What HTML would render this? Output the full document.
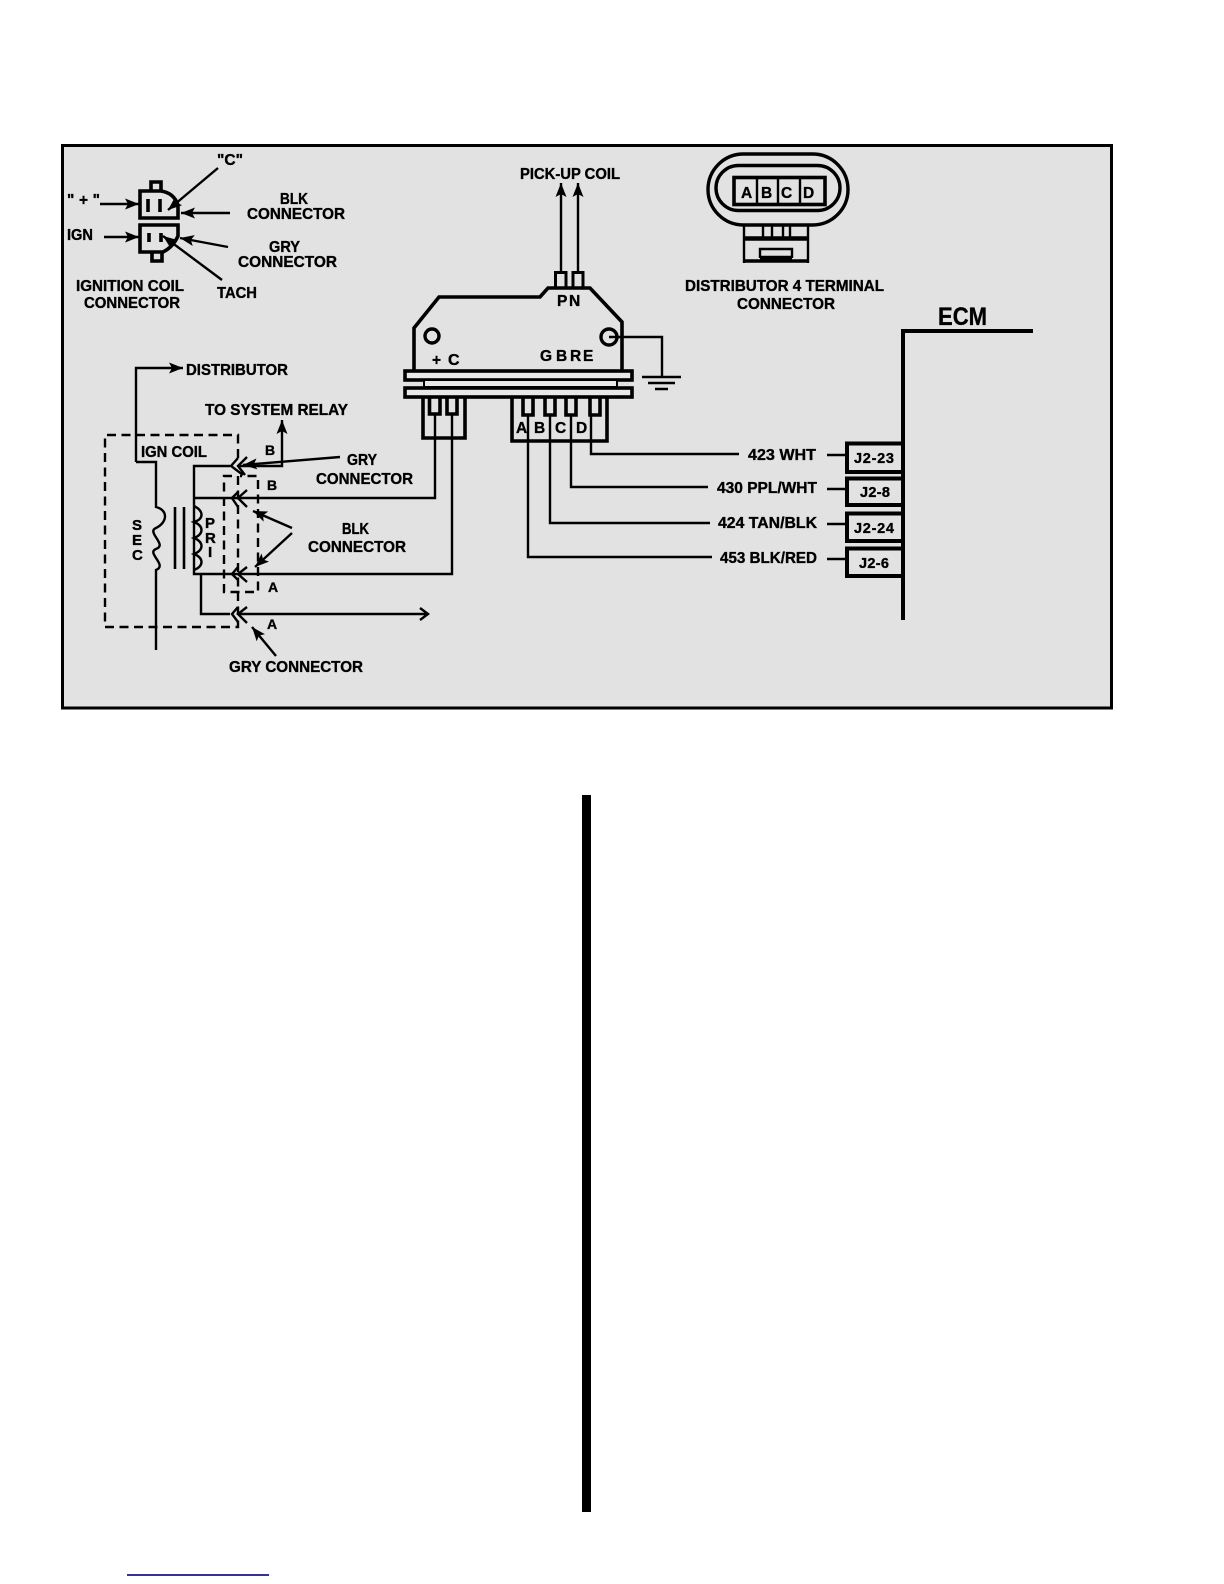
<!DOCTYPE html>
<html><head><meta charset="utf-8"><title>Ignition diagram</title>
<style>
html,body{margin:0;padding:0;background:#fff;width:1224px;height:1584px;overflow:hidden}
svg{display:block;position:absolute;left:0;top:0}
text{font-family:"Liberation Sans",sans-serif;font-weight:bold;fill:#000;font-size:15.5px;stroke:#000;stroke-width:.35px}
.w{fill:none;stroke:#000;stroke-width:2.4}
.t{fill:none;stroke:#000;stroke-width:3.6}
.d{fill:none;stroke:#000;stroke-width:2.4;stroke-dasharray:9 5.5}
</style></head><body>
<svg width="1224" height="1584" viewBox="0 0 1224 1584" xmlns="http://www.w3.org/2000/svg">
<defs>
<marker id="a" markerWidth="15" markerHeight="11" refX="14" refY="5.5" orient="auto" markerUnits="userSpaceOnUse"><path d="M0 0L14 5.5L0 11L3 5.5Z" fill="#000"/></marker>
</defs>
<rect x="62.5" y="145.5" width="1049" height="562.5" fill="#e2e2e2" stroke="#000" stroke-width="3"/>
<rect x="582" y="795" width="9" height="717" fill="#000"/>
<rect x="127" y="1574.2" width="142" height="1.6" fill="#000080"/>

<!-- ignition coil connector -->
<path class="t" d="M140 191H161Q174 193 178 205V218H140ZM151 190V182H161V190"/>
<path class="t" d="M140 225H178V236Q173 247 163 252H140ZM152 253V261H162V253"/>
<path class="t" d="M148 199V212M160 199V212M149 233V242M161 233V242"/>
<path class="w" marker-end="url(#a)" d="M218 168L168 210"/>
<path class="w" marker-end="url(#a)" d="M100 204H139"/>
<path class="w" marker-end="url(#a)" d="M104 237H139"/>
<path class="w" marker-end="url(#a)" d="M230 213H181"/>
<path class="w" marker-end="url(#a)" d="M228 247L180 238"/>
<path class="w" marker-end="url(#a)" d="M222 280L163 236"/>
<text x="217" y="165" textLength="26" lengthAdjust="spacingAndGlyphs">"C"</text>
<text x="67" y="205" textLength="33" lengthAdjust="spacing">" + "</text>
<text x="67" y="240" textLength="26" lengthAdjust="spacingAndGlyphs">IGN</text>
<text x="280" y="204" textLength="28" lengthAdjust="spacingAndGlyphs">BLK</text>
<text x="247" y="219" textLength="98" lengthAdjust="spacingAndGlyphs">CONNECTOR</text>
<text x="269" y="252" textLength="31" lengthAdjust="spacingAndGlyphs">GRY</text>
<text x="238" y="267" textLength="99" lengthAdjust="spacingAndGlyphs">CONNECTOR</text>
<text x="76" y="291" textLength="108" lengthAdjust="spacingAndGlyphs">IGNITION COIL</text>
<text x="84" y="308" textLength="96" lengthAdjust="spacingAndGlyphs">CONNECTOR</text>
<text x="217" y="298" textLength="40" lengthAdjust="spacingAndGlyphs">TACH</text>

<!-- module -->
<text x="520" y="179" textLength="100" lengthAdjust="spacingAndGlyphs">PICK-UP COIL</text>
<path class="w" marker-end="url(#a)" d="M561 272V183"/>
<path class="w" marker-end="url(#a)" d="M578 272V183"/>
<path class="w" style="stroke-width:3" d="M555.5 288V272.5H566V288M573 288V272.5H583V288"/>
<path class="t" d="M414 370V328L439 297H540L548 288H590L622 322V372"/>
<circle cx="432" cy="336" r="7" fill="none" stroke="#000" stroke-width="3.4"/>
<circle cx="609" cy="337" r="8" fill="none" stroke="#000" stroke-width="3.4"/>
<path class="w" d="M609 337H662V377"/>
<path class="w" style="stroke-width:2.6" d="M642 377H681M648 383H675M655 389H668"/>
<text x="557" y="306">P</text>
<text x="569" y="306">N</text>
<text x="432" y="365" textLength="12">+</text>
<text x="448" y="365" style="font-size:16px">C</text>
<text x="540" y="361" style="font-size:15.5px">G</text>
<text x="556" y="361" style="font-size:15.5px">B</text>
<text x="570" y="361" style="font-size:15.5px">R</text>
<text x="583" y="361" style="font-size:15.5px">E</text>
<rect x="405" y="371" width="227" height="9" fill="#e8e8e8" stroke="#000" stroke-width="3.6"/>
<rect x="424" y="380" width="193" height="7" fill="#e8e8e8" stroke="#000" stroke-width="2"/>
<rect x="405" y="388" width="227" height="9" fill="#e8e8e8" stroke="#000" stroke-width="3.6"/>
<path class="t" d="M423 397V438H465V397M512 397V441H607V397"/>
<path class="t" d="M429.5 397V414H440V397M447 397V414H457V397M523 397V415H533V397M545 397V415H555V397M566 397V415H576V397M590 397V415H600V397"/>
<text x="516" y="433">A</text>
<text x="534" y="433">B</text>
<text x="555" y="433">C</text>
<text x="576" y="433">D</text>
<path class="w" d="M591 415V454H739M571 415V487H708M550 415V523H710M528 415V557H712"/>

<!-- distributor connector -->
<rect x="708" y="154" width="140" height="71" rx="35.5" fill="none" stroke="#000" stroke-width="3.4"/>
<rect x="716" y="165.5" width="124" height="45" rx="22.5" fill="none" stroke="#000" stroke-width="3.4"/>
<rect x="734" y="177.5" width="91" height="27" fill="none" stroke="#000" stroke-width="3.6"/>
<path class="w" d="M757 178V204M778 178V204M800 178V204"/>
<text x="741" y="198">A</text>
<text x="761" y="198">B</text>
<text x="781" y="198">C</text>
<text x="803" y="198">D</text>
<path class="w" d="M744 226V263M808 226V263M763 226V238M772 226V238M783 226V238M790 226V238M760 258V249H792V258"/>
<path class="t" style="stroke-width:4.6" d="M744 238.5H808"/>
<path class="t" d="M744 261H808M760 257.5H792"/>
<text x="685" y="291" textLength="199" lengthAdjust="spacingAndGlyphs">DISTRIBUTOR 4 TERMINAL</text>
<text x="737" y="309" textLength="98" lengthAdjust="spacingAndGlyphs">CONNECTOR</text>

<!-- ECM -->
<text x="938" y="325" textLength="49" lengthAdjust="spacingAndGlyphs" style="font-size:25px">ECM</text>
<path d="M1033 331H903V620" fill="none" stroke="#000" stroke-width="4"/>
<g fill="none" stroke="#000" stroke-width="4">
<path d="M903 443.5H847V472H903"/>
<path d="M903 478.5H847V505H903"/>
<path d="M903 513.5H847V541H903"/>
<path d="M903 548.5H847V576H903"/>
</g>
<path class="w" d="M827 455H845M827 489H845M827 524H845M827 559H845"/>
<text x="748" y="460" textLength="68" lengthAdjust="spacingAndGlyphs">423 WHT</text>
<text x="717" y="493" textLength="100" lengthAdjust="spacingAndGlyphs">430 PPL/WHT</text>
<text x="718" y="528" textLength="99" lengthAdjust="spacingAndGlyphs">424 TAN/BLK</text>
<text x="720" y="563" textLength="97" lengthAdjust="spacingAndGlyphs">453 BLK/RED</text>
<text x="854" y="463" textLength="40" lengthAdjust="spacing" style="font-size:14.5px">J2-23</text>
<text x="860" y="497" textLength="30" lengthAdjust="spacing" style="font-size:14.5px">J2-8</text>
<text x="854" y="533" textLength="40" lengthAdjust="spacing" style="font-size:14.5px">J2-24</text>
<text x="859" y="568" textLength="30" lengthAdjust="spacing" style="font-size:14.5px">J2-6</text>

<!-- coil -->
<path class="d" d="M238 458V435H105V627H238V612"/>
<path class="d" d="M238 476V612"/>
<path class="d" d="M232 476H224V592H258V476H240"/>
<path class="w" marker-end="url(#a)" d="M136 462V368H183"/>
<path class="w" d="M136 462H156V507C168 510 168 522 156 528C146 532 168 545 156 549C146 553 168 565 156 570V650"/>
<path class="w" style="stroke-width:2.6" d="M175 507V569M184 507V569"/>
<path class="w" d="M230 466H194V574H452V414M194 498H435V414"/>
<path class="w" d="M194 506C204 511 204 519 194 522C204 526 204 534 194 538C204 542 204 550 194 554C204 558 204 566 194 570"/>
<path class="w" d="M201 574V614H230"/>
<path class="w" d="M238 614H428M420 608L428 614L420 620"/>
<path class="w" marker-end="url(#a)" d="M238 466H282V420"/>
<g fill="none" stroke="#000" stroke-width="2.4">
<path d="M238 458L231 466L243 475M247 457L238 466L245 475"/>
<path d="M238 492L232 498L238 507M247 490L238 498L247 507"/>
<path d="M238 567L232 574L238 580M247 567L238 574L247 582"/>
<path d="M238 607L232 614L238 622M247 607L238 614L247 623"/>
</g>
<path class="w" marker-end="url(#a)" d="M340 457L243 465"/>
<path class="w" marker-end="url(#a)" d="M292 528L253 511"/>
<path class="w" marker-end="url(#a)" d="M292 533L255 567"/>
<path class="w" marker-end="url(#a)" d="M276 656L252 627"/>
<text x="186" y="375" textLength="102" lengthAdjust="spacingAndGlyphs">DISTRIBUTOR</text>
<text x="205" y="415" textLength="143" lengthAdjust="spacingAndGlyphs">TO SYSTEM RELAY</text>
<text x="141" y="457" textLength="66" lengthAdjust="spacingAndGlyphs">IGN COIL</text>
<text x="347" y="465" textLength="30" lengthAdjust="spacingAndGlyphs">GRY</text>
<text x="316" y="484" textLength="97" lengthAdjust="spacingAndGlyphs">CONNECTOR</text>
<text x="342" y="534" textLength="27" lengthAdjust="spacingAndGlyphs">BLK</text>
<text x="308" y="552" textLength="98" lengthAdjust="spacingAndGlyphs">CONNECTOR</text>
<text x="229" y="672" textLength="134" lengthAdjust="spacingAndGlyphs">GRY CONNECTOR</text>
<text x="265" y="455" style="font-size:14px">B</text>
<text x="267" y="490" style="font-size:14px">B</text>
<text x="268" y="592" style="font-size:14px">A</text>
<text x="267" y="629" style="font-size:14px">A</text>
<text x="132" y="530" style="font-size:15px">S</text>
<text x="132" y="545" style="font-size:15px">E</text>
<text x="132" y="560" style="font-size:15px">C</text>
<text x="205" y="528" style="font-size:15px">P</text>
<text x="205" y="543" style="font-size:15px">R</text>
<text x="208" y="557" style="font-size:15px">I</text>
</svg>
</body></html>
